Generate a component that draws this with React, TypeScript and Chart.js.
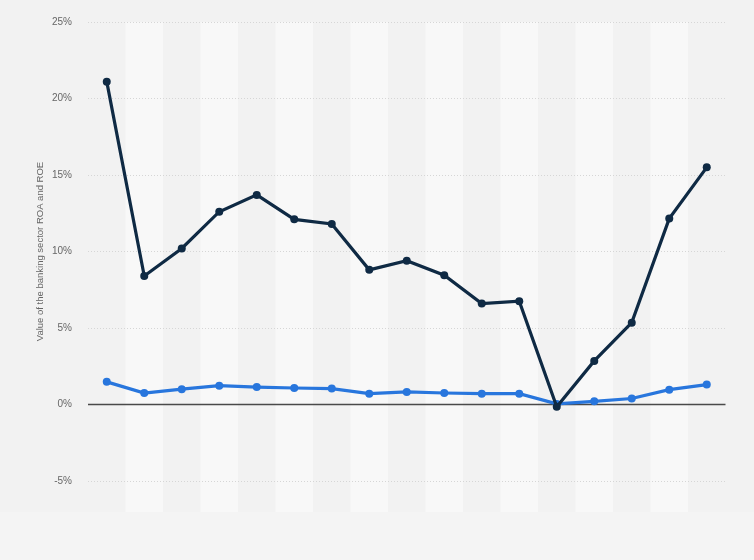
import React, { useEffect, useRef } from "react";
import { Chart, registerables } from "chart.js";

Chart.register(...registerables);

const categories = [
  "1", "2", "3", "4", "5", "6", "7", "8", "9",
  "10", "11", "12", "13", "14", "15", "16", "17",
];
const roeValues = [21.1, 8.4, 10.2, 12.6, 13.7, 12.1, 11.8, 8.8, 9.4, 8.45, 6.6, 6.75, -0.15, 2.85, 5.35, 12.15, 15.5];
const roaValues = [1.48, 0.75, 1.0, 1.23, 1.14, 1.08, 1.04, 0.71, 0.82, 0.75, 0.71, 0.71, 0.04, 0.21, 0.39, 0.97, 1.3];
const yTickValues = [-5, 0, 5, 10, 15, 20, 25];
const yTitle = "Value of the banking sector ROA and ROE";

const bandPlugin = {
  id: "bands",
  beforeDraw(chart: any) {
    const { ctx, chartArea, scales } = chart;
    const x = scales.x;
    ctx.save();
    ctx.fillStyle = "#f2f2f2";
    ctx.fillRect(0, 0, chart.width, chart.height);
    ctx.fillStyle = "#f4f4f4";
    ctx.fillRect(0, chartArea.bottom + 31, chart.width, chart.height);
    const n = categories.length;
    const w = (chartArea.right - chartArea.left) / n;
    ctx.fillStyle = "#f8f8f8";
    for (let i = 0; i < n; i++) {
      if (i % 2 === 1) {
        const cx = x.getPixelForValue(i);
        ctx.fillRect(cx - w / 2, chartArea.top, w, chartArea.bottom + 31 - chartArea.top);
      }
    }
    ctx.restore();
  },
  beforeDatasetsDraw(chart: any) {
    const { ctx, chartArea, scales } = chart;
    const y0 = scales.y.getPixelForValue(0);
    ctx.save();
    ctx.strokeStyle = "#4a4a4a";
    ctx.lineWidth = 1.3;
    ctx.beginPath();
    ctx.moveTo(chartArea.left, y0);
    ctx.lineTo(chartArea.right, y0);
    ctx.stroke();
    ctx.restore();
  },
};

export default function App() {
  const ref = useRef<HTMLCanvasElement>(null);
  useEffect(() => {
    document.body.style.margin = "0";
    document.body.style.background = "#f2f2f2";
    const chart = new Chart(ref.current as HTMLCanvasElement, {
      type: "line",
      data: {
        labels: categories,
        datasets: [
          {
            label: "ROE",
            data: roeValues,
            borderColor: "#0f2a44",
            backgroundColor: "#0f2a44",
            borderWidth: 3.2,
            pointRadius: 4,
            pointBorderWidth: 0,
            pointHoverRadius: 4,
            tension: 0,
          },
          {
            label: "ROA",
            data: roaValues,
            borderColor: "#2876dd",
            backgroundColor: "#2876dd",
            borderWidth: 3.2,
            pointRadius: 4,
            pointBorderWidth: 0,
            pointHoverRadius: 4,
            tension: 0,
          },
        ],
      },
      options: {
        responsive: false,
        animation: false,
        layout: { padding: { left: 0, top: 20, right: 28.5, bottom: 79 } },
        plugins: { legend: { display: false }, tooltip: { enabled: false } },
        scales: {
          x: {
            display: false,
            offset: true,
            grid: { display: false },
          },
          y: {
            min: -5,
            max: 25,
            afterFit(scale: any) {
              scale.width = 88;
            },
            afterBuildTicks(scale: any) {
              scale.ticks = yTickValues.map((v) => ({ value: v }));
            },
            ticks: {
              padding: 16,
              color: "#666666",
              font: { family: "'Liberation Sans', Arial, sans-serif", size: 10 },
              callback: (v: any) => v + "%",
            },
            grid: {
              drawTicks: false,
              color: (c: any) => (c.tick && c.tick.value === 0 ? "rgba(0,0,0,0)" : "#d6d6d6"),
              lineWidth: 1,
            },
            border: { display: false, dash: [1, 2] },
            title: {
              display: true,
              text: yTitle,
              color: "#666666",
              font: { family: "'Liberation Sans', Arial, sans-serif", size: 9.5 },
              padding: { top: 35, bottom: 0 },
            },
          },
        },
      },
      plugins: [bandPlugin],
    });
    return () => chart.destroy();
  }, []);
  return <canvas ref={ref} width={754} height={560} style={{ display: "block" }} />;
}
